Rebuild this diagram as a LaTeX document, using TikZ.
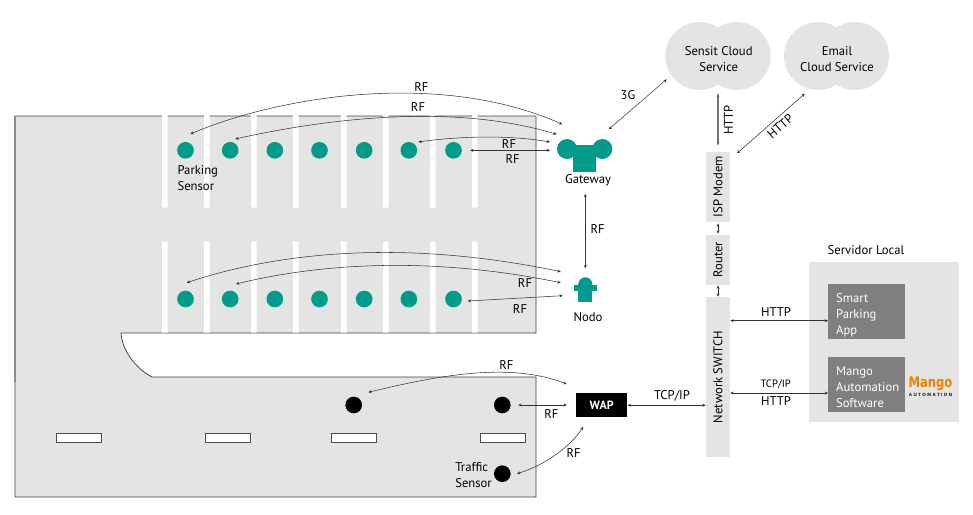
\documentclass[tikz,border=0pt]{standalone}
\usepackage{fontspec}
\setmainfont{PT Sans}
\newfontfamily\logofont{DejaVu Sans}
\newfontfamily\logotiny[LetterSpace=32]{Liberation Sans}
\usepackage{tikz}
\usetikzlibrary{arrows.meta, positioning}
\definecolor{lotgray}{HTML}{E4E4E4}
\definecolor{sensorteal}{HTML}{009B8A}
\definecolor{appgray}{HTML}{7F7F7F}
\definecolor{mangoorange}{HTML}{F08000}
\tikzstyle{lbl}=[inner sep=0pt, align=center, font=\fontsize{9.5}{12}\selectfont]
\tikzstyle{leftlbl}=[inner sep=0pt, align=left, anchor=west, font=\fontsize{9.5}{12}\selectfont]
\tikzstyle{sensor}=[circle, fill=sensorteal, inner sep=0pt, minimum size=12.5pt]
\tikzstyle{traffic}=[circle, fill=black, inner sep=0pt, minimum size=12.5pt]
\tikzstyle{tealpart}=[rectangle, fill=sensorteal, inner sep=0pt]
\tikzstyle{netbox}=[rectangle, fill=lotgray, inner sep=0pt, minimum height=18pt, rotate=90, font=\fontsize{9.5}{12}\selectfont]
\tikzstyle{puff}=[circle, fill=lotgray, inner sep=0pt, minimum size=51pt]
\tikzstyle{appbox}=[rectangle, fill=appgray, text=white, inner xsep=5.8pt, inner ysep=0pt, text width=45.9pt, minimum height=40.8pt, align=left, font=\fontsize{9.5}{12}\selectfont]
\tikzstyle{bay}=[rectangle, fill=white, draw=black!70, line width=0.5pt, inner sep=0pt, minimum width=34pt, minimum height=6.7pt]
\tikzstyle{link}=[{Stealth[length=2.5pt,width=2.2pt]}-{Stealth[length=2.5pt,width=2.2pt]}, line width=0.4pt, draw=black!80]

\begin{document}
\begin{tikzpicture}[x=0.75pt, y=-0.75pt, node distance=33.5pt]
    \useasboundingbox (0,0) rectangle (973,514);

    % parking lot
    \filldraw[fill=lotgray, draw=black!75, line width=0.55pt] (15,116) -- (536,116) -- (536,333) -- (121,333)
      .. controls (122,350) and (135,368) .. (152,377) -- (536,377) -- (536,497) -- (15,497) -- cycle;
    \draw[black!45, line width=0.8pt] (15,116) -- (15,382);
    \fill[white] (162,115) rectangle (167.5,207.7) (204,115) rectangle (209.5,207.7)
      (251,115) rectangle (256.5,207.7) (293,115) rectangle (298.5,207.7)
      (341,115) rectangle (346.5,207.7) (383,115) rectangle (388.5,207.7)
      (430,115) rectangle (435.5,207.7) (472,115) rectangle (477.5,207.7);
    \fill[white] (162,241.7) rectangle (167.5,332.7) (204,241.7) rectangle (209.5,332.7)
      (251,241.7) rectangle (256.5,332.7) (293,241.7) rectangle (298.5,332.7)
      (341,241.7) rectangle (346.5,332.7) (383,241.7) rectangle (388.5,332.7)
      (430,241.7) rectangle (435.5,332.7) (472,241.7) rectangle (477.5,332.7);

    \node[bay] (b1) at (79,437.8) {};
    \node[bay] (b2) at (227.7,437.8) {};
    \node[bay] (b3) at (354,437.8) {};
    \node[bay] (b4) at (502.7,437.8) {};

    % parking sensors
    \node[sensor] (p1) at (185.5,150.3) {};
    \node[sensor] (p2) [right of=p1] {};
    \node[sensor] (p3) [right of=p2] {};
    \node[sensor] (p4) [right of=p3] {};
    \node[sensor] (p5) [right of=p4] {};
    \node[sensor] (p6) [right of=p5] {};
    \node[sensor] (p7) [right of=p6] {};
    \node[sensor] (q1) at (185.5,299) {};
    \node[sensor] (q2) [right of=q1] {};
    \node[sensor] (q3) [right of=q2] {};
    \node[sensor] (q4) [right of=q3] {};
    \node[sensor] (q5) [right of=q4] {};
    \node[sensor] (q6) [right of=q5] {};
    \node[sensor] (q7) [right of=q6] {};
    \node[leftlbl] (parking) at (177.3,177.8) {Parking\\Sensor};

    % traffic sensors
    \node[traffic] (t1) at (353.7,405) {};
    \node[traffic] (t2) at (502.3,405) {};
    \node[traffic] (t3) at (502.3,473.7) {};
    \node[leftlbl] (trafficlbl) at (455,475.3) {Traffic\\Sensor};

    % gateway and nodo
    \node[sensor, minimum size=15pt] (gwl) at (567,149) {};
    \node[sensor, minimum size=15pt] (gwr) at (602.3,149) {};
    \node[tealpart, minimum width=17pt, minimum height=20pt] (gateway) at (584.7,158.3) {};
    \node[lbl] (gwlabel) at (588,180.7) {Gateway};
    \node[sensor, minimum size=10.5pt] (nododome) at (585.3,284.3) {};
    \node[tealpart, minimum width=10.5pt, minimum height=13.5pt] (nodo) at (585.3,293.3) {};
    \node[tealpart, minimum width=16.8pt, minimum height=4.8pt] (nodobar) at (585.5,288.2) {};
    \node[lbl] (nodolabel) at (588,316.7) {Nodo};

    % clouds
    \node[puff] (sensitl) at (699.3,56) {};
    \node[puff] (sensitr) at (736.7,56) {};
    \node[lbl] (sensit) at (718.7,58.7) {Sensit Cloud\\Service};
    \node[puff] (emaill) at (818,56) {};
    \node[puff] (emailr) at (855,56) {};
    \node[lbl] (email) at (837,58.7) {Email\\Cloud Service};

    % network column
    \node[netbox, minimum width=52.5pt] (isp) at (718,186.7) {ISP Modem};
    \node[netbox, minimum width=37.5pt] (router) at (718,259.7) {Router};
    \node[netbox, minimum width=119.5pt] (switch) at (718,377) {Network SWITCH};
    \node[rectangle, fill=black, text=white, inner sep=0pt, minimum width=38.5pt, minimum height=18.2pt,
      font=\fontsize{9}{12}\selectfont\bfseries] (wap) at (601.7,405.2) {WAP};

    % servidor local
    \fill[lotgray] (809,262.3) rectangle (959,421.7);
    \node[lbl] (servidor) at (866,249.7) {Servidor Local};
    \node[appbox] (smart) at (866.7,311.5) {\rule{0pt}{12pt}Smart\\Parking\\App};
    \node[appbox] (mango) at (866.7,384.5) {\rule{0pt}{10.5pt}Mango\\\mbox{Automation}\\Software};
    \node[inner sep=0pt, text=mangoorange, xscale=0.79, font=\logofont\fontsize{11}{12}\selectfont\bfseries] (logo) at (930.5,384) {Mango};
    \node[inner sep=0pt, font=\logotiny\fontsize{3.4}{4}\selectfont\bfseries] (logosub) at (930.5,395) {AUTOMATION};

    % free ends of the connectors
    \coordinate (a1) at (190.3,134);
    \coordinate (a2) at (562.3,124.3);
    \coordinate (c1) at (235.3,139);
    \coordinate (c2) at (556.7,134.3);
    \coordinate (d1) at (418.3,142);
    \coordinate (d2) at (550,142);
    \coordinate (e1) at (186.7,282.7);
    \coordinate (e2) at (560.7,271.7);
    \coordinate (f1) at (236,284);
    \coordinate (f2) at (560.7,282.7);
    \coordinate (g1) at (467.7,301);
    \coordinate (g2) at (562.7,295.7);
    \coordinate (h1) at (368.3,392.3);
    \coordinate (h2) at (566.7,384);
    \coordinate (k1) at (517,473.7);
    \coordinate (k2) at (583.3,426.7);
    \coordinate (m1) at (608.7,129.3);
    \coordinate (m2) at (666.7,79.3);
    \coordinate (n1) at (737,153.3);
    \coordinate (n2) at (804.7,93.7);
    \coordinate (o1) at (718,93.3);
    \coordinate (smartin) at ([yshift=-6.9pt]smart.west);
    \coordinate (mangoin) at ([yshift=-6.4pt]mango.west);

    % RF links
    \draw[link] (a1) .. controls (280,96) and (440,70) .. (a2);
    \draw[link] (c1) .. controls (320,120) and (450,102) .. (c2);
    \draw[link] (d1) .. controls (460,136) and (510,135) .. (d2);
    \draw[link, shorten <=6pt, shorten >=5pt] (p7.east) -- (p7.east -| gwl.west);
    \draw[link] (e1) .. controls (270,255) and (395,237) .. (e2);
    \draw[link] (f1) .. controls (310,266) and (420,254) .. (f2);
    \draw[link] (g1) -- (g2);
    \draw[link, shorten <=5.3pt, shorten >=6.5pt] (nodo |- gwlabel.south) -- (nododome.north);
    \draw[link] (h1) .. controls (440,375) and (510,362) .. (h2);
    \draw[link, shorten <=5.5pt, shorten >=6.7pt] (t2.east) -- (wap.west |- t2.east);
    \draw[link] (k1) .. controls (545,465) and (570,447) .. (k2);
    \draw[link] (m1) -- (m2);

    % wired links
    \draw[link] (wap.east) -- (switch.north |- wap.east);
    \draw[link, shorten <=1pt, shorten >=0.6pt] (isp.west) -- (router.east);
    \draw[link, shorten <=0.3pt, shorten >=0.3pt] (router.west) -- (switch.east);
    \draw[link, line width=0.8pt, draw=black!55, shorten >=4.5pt] (o1) -- (isp.east);
    \draw[link] (n1) -- (n2);
    \draw[link] (switch.south |- smartin) -- (smartin);
    \draw[link] (switch.south |- mangoin) -- (mangoin);

    % link labels
    \node[lbl] (rf1) at (421.3,86.7) {RF};
    \node[lbl] (rf2) at (418,106.7) {RF};
    \node[lbl] (rf3) at (509,143.7) {RF};
    \node[lbl] (rf4) at (512.7,158.7) {RF};
    \node[lbl] (rf5) at (597.7,228.7) {RF};
    \node[lbl] (rf6) at (525,283) {RF};
    \node[lbl] (rf7) at (520,308.7) {RF};
    \node[lbl] (rf8) at (506.3,364.7) {RF};
    \node[lbl] (rf9) at (551.3,414) {RF};
    \node[lbl] (rf10) at (573.7,453) {RF};
    \node[lbl] (g3) at (628,94.7) {3G};
    \node[lbl, rotate=90] (http1) at (728.3,120) {HTTP};
    \node[lbl, rotate=41.4] (http2) at (780.3,126.3) {HTTP};
    \node[lbl] (http3) at (776,311.7) {HTTP};
    \node[lbl, font=\fontsize{8}{10}\selectfont] (tcp1) at (775.7,384) {TCP/IP};
    \node[lbl] (http4) at (776,401.3) {HTTP};
    \node[lbl] (tcp2) at (672,395.7) {TCP/IP};
\end{tikzpicture}
\end{document}
